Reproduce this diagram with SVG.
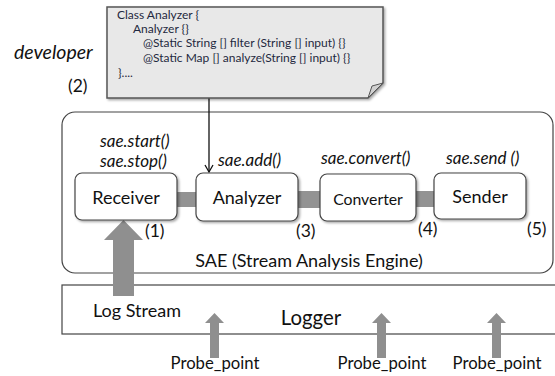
<svg xmlns="http://www.w3.org/2000/svg" width="555" height="376" viewBox="0 0 555 376">
<defs>
<style>
text{font-family:Lato,"Liberation Sans",sans-serif;fill:#111}
.code{font-size:12px;fill:#1f2940}
.it{font-style:italic;font-size:17px}
.lbl{font-size:18px;text-anchor:middle}
.num{font-size:17.5px}
.probe{font-size:16.7px;text-anchor:middle}
.box{fill:#fff;stroke:#444;stroke-width:1.2}
.band{fill:#939393}
.gray{fill:#8f8f8f}
</style>
<filter id="sh" x="-5%" y="-5%" width="115%" height="120%"><feDropShadow dx="1.5" dy="1.5" stdDeviation="1" flood-opacity="0.35"/></filter>
<marker id="ah" markerWidth="10" markerHeight="10" refX="8" refY="5" orient="auto" markerUnits="userSpaceOnUse"><path d="M1,1 L8,5 L1,9" fill="none" stroke="#111" stroke-width="1.3"/></marker>
</defs>
<rect width="555" height="376" fill="#fff"/>

<g id="sae">
<rect x="62" y="112" width="491" height="161" rx="13" fill="#fff" stroke="#444" stroke-width="1.2"/>
<text x="309" y="267" class="lbl" style="font-size:18px">SAE (Stream Analysis Engine)</text>
</g>

<g id="logger">
<rect x="62" y="285" width="500" height="49" fill="#fff" stroke="#444" stroke-width="1.2"/>
<text x="137" y="317" class="lbl">Log Stream</text>
<text x="311" y="325" class="lbl" style="font-size:20.4px">Logger</text>
</g>

<g id="connectors">
<rect class="band" x="176" y="192" width="21" height="15"/>
<rect class="band" x="297" y="191" width="24" height="17"/>
<rect class="band" x="415" y="191" width="20" height="16"/>
<path class="gray" d="M113,296 L113,240 L104,240 L123.5,220 L143,240 L134,240 L134,296 Z"/>
<path class="gray" d="M210,358 L210,323 L205,323 L214.5,313 L224,323 L219,323 L219,358 Z"/>
<path class="gray" d="M377,358 L377,323 L372,323 L381.5,313 L391,323 L386,323 L386,358 Z"/>
<path class="gray" d="M492,358 L492,323 L487,323 L496.5,313 L506,323 L501,323 L501,358 Z"/>
<line x1="209" y1="98" x2="209" y2="172" stroke="#111" stroke-width="1.3" marker-end="url(#ah)"/>
</g>

<g id="note">
<path d="M107,7 L383,7 L383,83 L368,98 L107,98 Z" fill="#e8e8e8" stroke="#555" stroke-width="1.5" filter="url(#sh)"/>
<path d="M383,83 L368,98 L372,86 Z" fill="#d0d0d0" stroke="#555" stroke-width="1"/>
<text class="code" x="117" y="19">Class Analyzer {</text>
<text class="code" x="133" y="33">Analyzer {}</text>
<text class="code" x="143" y="47">@Static String [] filter (String [] input) {}</text>
<text class="code" x="143" y="62">@Static Map [] analyze(String [] input) {}</text>
<text class="code" x="118" y="77">}....</text>
</g>

<g id="developer">
<text x="14" y="59" style="font-size:19.5px;font-style:italic">developer</text>
<text x="68" y="92" class="num">(2)</text>
</g>

<g id="receiver">
<rect class="box" x="75" y="173" width="102" height="47" rx="7" filter="url(#sh)"/>
<text x="126" y="204" class="lbl">Receiver</text>
<text x="100" y="147" class="it">sae.start()</text>
<text x="100" y="167" class="it">sae.stop()</text>
<text x="145" y="237" class="num">(1)</text>
</g>

<g id="analyzer">
<rect class="box" x="196" y="173" width="102" height="48" rx="7" filter="url(#sh)"/>
<text x="247" y="204" class="lbl">Analyzer</text>
<text x="218" y="166" class="it">sae.add()</text>
<text x="296" y="237" class="num">(3)</text>
</g>

<g id="converter">
<rect class="box" x="320" y="174" width="96" height="47" rx="7" filter="url(#sh)"/>
<text x="368" y="205" class="lbl" style="font-size:15.8px">Converter</text>
<text x="321" y="164" class="it">sae.convert()</text>
<text x="418" y="235" class="num">(4)</text>
</g>

<g id="sender">
<rect class="box" x="434" y="173" width="92" height="46" rx="7" filter="url(#sh)"/>
<text x="480" y="203" class="lbl">Sender</text>
<text x="446" y="164" class="it">sae.send ()</text>
<text x="527" y="235" class="num">(5)</text>
</g>

<g id="probes">
<text x="215" y="369" class="probe">Probe_point</text>
<text x="382" y="369" class="probe">Probe_point</text>
<text x="497" y="369" class="probe">Probe_point</text>
</g>
</svg>
